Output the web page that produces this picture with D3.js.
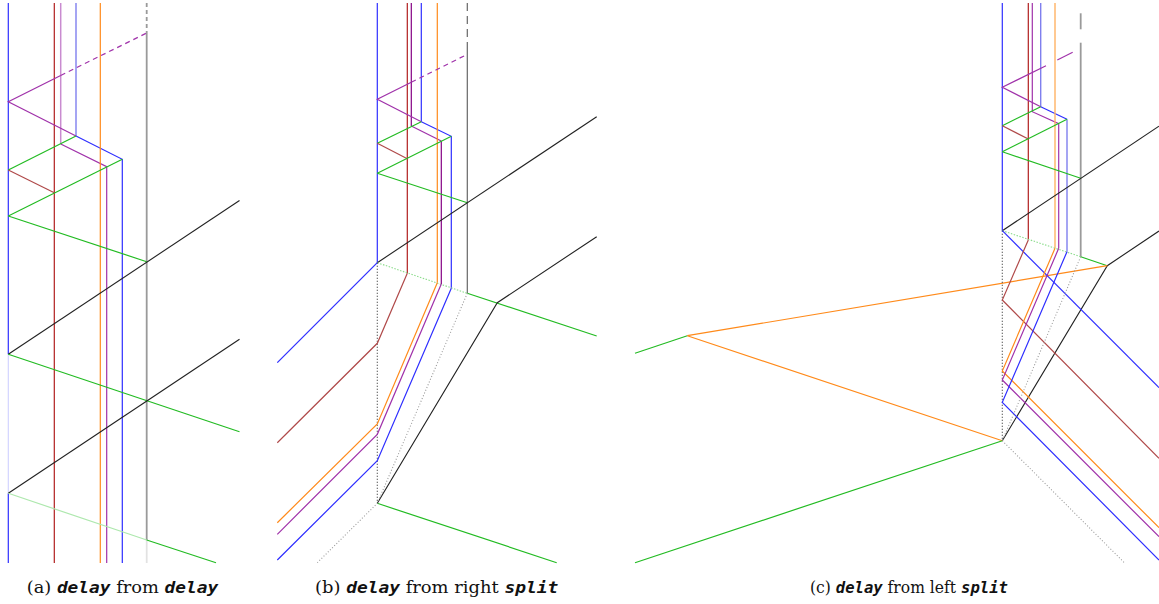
<!DOCTYPE html>
<html><head><meta charset="utf-8">
<script src="https://cdn.jsdelivr.net/npm/d3@7/dist/d3.min.js"></script>
<style>body{margin:0;background:#fff}svg{display:block}</style>
</head><body>
<svg id="chart" width="1159" height="604"></svg>
<script>
// ---- data (local panel coordinates) ----
const panelOffsets = [0, 270, 620];

const linesA = [
  {k:'blue', p:[[8.3,3],[8.3,354.3]]},
  {k:'bluePale', p:[[8.3,354.3],[8.3,493.3]]},
  {k:'blue', p:[[8.3,493.3],[8.3,563]]},
  {k:'red', p:[[54.3,3],[54.3,563]]},
  {k:'purpleLight', p:[[60.7,3],[60.7,144]]},
  {k:'purple', p:[[60.7,144],[106.7,166.7],[106.7,563]]},
  {k:'blueLight', p:[[76,3],[76,136]]},
  {k:'blue', p:[[76,136],[122.3,159.3],[122.3,563]]},
  {k:'orange', p:[[100.3,3],[100.3,563]]},
  {k:'grayDash', p:[[146.7,3],[146.7,33]]},
  {k:'gray', p:[[146.7,33],[146.7,540]]},
  {k:'grayPale', p:[[146.7,540],[146.7,563]]},
  {k:'purple', p:[[60.7,75.5],[8.3,101.7],[76,136]]},
  {k:'purpleDash', p:[[60.7,75.5],[146.7,33]]},
  {k:'green', p:[[8.3,170],[76,136]]},
  {k:'brown', p:[[8.3,170],[54.3,192.7]]},
  {k:'green', p:[[8.3,216],[122.3,159.3]]},
  {k:'green', p:[[8.3,216],[146.7,261.7]]},
  {k:'black', p:[[8.3,354.3],[239.5,200.5]]},
  {k:'green', p:[[8.3,354.3],[239.5,431.7]]},
  {k:'black', p:[[8.3,493.3],[239.5,339.3]]},
  {k:'greenPale', p:[[8.3,493.3],[146.7,540]]},
  {k:'green', p:[[146.7,540],[216,562.7]]}
];

const linesB = [
  {k:'blue', p:[[107.3,3],[107.3,262.7]]},
  {k:'red', p:[[137.3,3],[137.3,273.3]]},
  {k:'purpleDark', p:[[141.3,3],[141.3,126]]},
  {k:'purple', p:[[141.3,126],[171.3,141]]},
  {k:'purpleDark', p:[[171.3,141],[171.3,284]]},
  {k:'blue', p:[[151.3,3],[151.3,121.7]]},
  {k:'blue', p:[[151.3,121.7],[181.3,136.3],[181.3,288.3]]},
  {k:'orange', p:[[167.3,3],[167.3,282.7]]},
  {k:'grayDarkDash', p:[[197.3,3],[197.3,46]]},
  {k:'grayDark', p:[[197.3,46],[197.3,293.3]]},
  {k:'purple', p:[[141.3,82.3],[107.3,99.3],[151.3,121.7]]},
  {k:'purpleDash', p:[[141.3,82.3],[197.3,54.3]]},
  {k:'green', p:[[107.3,143.3],[151.3,121.7]]},
  {k:'brown', p:[[107.3,143.3],[137.3,158.7]]},
  {k:'green', p:[[107.3,173.3],[181.3,136.3]]},
  {k:'green', p:[[107.3,173.3],[197.3,202.7]]},
  {k:'black', p:[[107.3,262.7],[326.7,116.7]]},
  {k:'greenDot', p:[[107.3,262.7],[197.3,293.3]]},
  {k:'green', p:[[197.3,293.3],[326.7,336]]},
  {k:'black', p:[[107.3,503.3],[227.3,302.7],[326.7,236.7]]},
  {k:'green', p:[[107.3,503.3],[286.7,562.7]]},
  {k:'grayDot', p:[[197.3,293.3],[107.3,503.3],[47.3,562.7]]},
  {k:'blackDot', p:[[107.3,262.7],[107.3,503.3]]},
  {k:'blue', p:[[107.3,262.7],[7.3,362.7]]},
  {k:'brown', p:[[137.3,273.3],[107.3,343.3],[7.3,442.7]]},
  {k:'orange', p:[[167.3,282.7],[107.3,424],[7.3,522.7]]},
  {k:'purple', p:[[171.3,284],[107.3,434.3],[7.3,534.3]]},
  {k:'blue', p:[[181.3,288.3],[107.3,460.7],[7.3,560]]}
];

const linesC = [
  {k:'blue', p:[[382.3,3],[382.3,230.7]]},
  {k:'red', p:[[408.3,3],[408.3,240]]},
  {k:'purple', p:[[412.3,3],[412.3,111.7],[438.7,123.7],[438.7,248.3]]},
  {k:'blueLight', p:[[420.7,3],[420.7,106.7]]},
  {k:'blue', p:[[420.7,106.7],[447,119.3]]},
  {k:'blueLight', p:[[447,119.3],[447,251.7]]},
  {k:'orangeLight', p:[[435,3],[435,248.3]]},
  {k:'gray', p:[[460.7,13.3],[460.7,29.3]]},
  {k:'gray', p:[[460.7,42.7],[460.7,256.7]]},
  {k:'purple', p:[[426,65.7],[382.3,87.3],[420.7,106.7]]},
  {k:'purple', p:[[437.3,60],[452.7,52.3]]},
  {k:'green', p:[[382.3,125.7],[420.7,106.7]]},
  {k:'brown', p:[[382.3,125.7],[408.3,139]]},
  {k:'green', p:[[382.3,151.7],[447,119.3]]},
  {k:'green', p:[[382.3,151.7],[460.7,178.3]]},
  {k:'black', p:[[382.3,230.7],[539,126.2]]},
  {k:'greenDot', p:[[382.3,230.7],[460.7,256.7]]},
  {k:'green', p:[[460.7,256.7],[487.3,265.7]]},
  {k:'black', p:[[382.3,440.7],[487.3,265.7],[539,231]]},
  {k:'orange', p:[[487.3,265.7],[67.3,335.7],[382.3,440.7]]},
  {k:'green', p:[[15,353.3],[67.3,335.7]]},
  {k:'green', p:[[15,562.7],[382.3,440.7]]},
  {k:'grayDot', p:[[382.3,440.7],[504.3,562.7]]},
  {k:'blackDot', p:[[382.3,230.7],[382.3,440.7]]},
  {k:'blue', p:[[382.3,230.7],[539,387.7]]},
  {k:'brown', p:[[408.3,240],[382.3,300],[539,458.3]]},
  {k:'orange', p:[[435,248.3],[382.3,371],[539,527.7]]},
  {k:'purple', p:[[438.7,248.3],[382.3,380],[539,536.7]]},
  {k:'blue', p:[[447,251.7],[382.3,402.3],[539,560]]},
  {k:'grayDot', p:[[460.7,256.7],[382.3,440.7]]}
];

// caption pieces: [text, isMono]
const captionA = [['(a) ',0],['delay',1],[' from ',0],['delay',1]];
const captionB = [['(b) ',0],['delay',1],[' from right ',0],['split',1]];
const captionC = [['(c) ',0],['delay',1],[' from left ',0],['split',1]];

// ---- styles ----
const STY = {
  blue:{c:'#2e2eff',w:1.2}, blueLight:{c:'#7f7fee',w:1.4}, bluePale:{c:'#cfd0ff',w:1.1},
  red:{c:'#b01e1e',w:1.2}, brown:{c:'#b04a4a',w:1.2},
  purple:{c:'#a032aa',w:1.2}, purpleDark:{c:'#840084',w:1.2}, purpleLight:{c:'#c98bd0',w:1.5},
  purpleDash:{c:'#a032aa',w:1.2,d:'5,4'},
  orange:{c:'#ff8a1a',w:1.2}, orangeLight:{c:'#ffb264',w:1.4},
  green:{c:'#22bb22',w:1.2}, greenPale:{c:'#aee8ae',w:1.2}, greenDot:{c:'#8cdc8c',w:1.1,d:'1.5,1.5'},
  black:{c:'#222',w:1.1},
  gray:{c:'#9a9a9a',w:1.8}, grayDash:{c:'#9a9a9a',w:1.8,d:'4,3'}, grayPale:{c:'#e2e2e2',w:1.8},
  grayDark:{c:'#666',w:1.2}, grayDarkDash:{c:'#666',w:1.2,d:'8,5'},
  grayDot:{c:'#9a9a9a',w:1.1,d:'1,2'}, blackDot:{c:'#333',w:1.1,d:'1,2'}
};

const svg = d3.select('#chart');
const y = d3.scaleLinear().domain([0,604]).range([0,604]);

[linesA, linesB, linesC].forEach((lines, i) => {
  const x = d3.scaleLinear().domain([0,100]).range([panelOffsets[i], panelOffsets[i]+100]);
  const line = d3.line().x(d => x(d[0])).y(d => y(d[1]));
  const g = svg.append('g');
  g.selectAll('path').data(lines).join('path')
    .attr('d', d => line(d.p))
    .attr('fill','none')
    .attr('stroke', d => STY[d.k].c)
    .attr('stroke-width', d => STY[d.k].w)
    .attr('stroke-dasharray', d => STY[d.k].d || null)
    .attr('stroke-linejoin','miter');
});

// captions
const capSpecs = [[captionA,122.5,191.6],[captionB,436.7,243.3],[captionC,909,198]];
capSpecs.forEach(([pieces, cx, tw]) => {
  const g = svg.append('g');
  const t = g.append('text').attr('x',0).attr('y',0)
    .attr('font-size',16.5).attr('fill','#111');
  t.selectAll('tspan').data(pieces).join('tspan')
    .text(d => d[0])
    .attr('font-family', d => d[1] ? '"DejaVu Sans Mono", monospace' : '"DejaVu Serif", serif')
    .attr('font-style', d => d[1] ? 'oblique' : 'normal')
    .attr('font-weight', d => d[1] ? 'bold' : 'normal')
    .style('white-space','pre');
  const w = t.node().getComputedTextLength();
  const s = tw / w;
  g.attr('transform', `translate(${cx - tw/2},593) scale(${s},1)`);
});
</script>
</body></html>
